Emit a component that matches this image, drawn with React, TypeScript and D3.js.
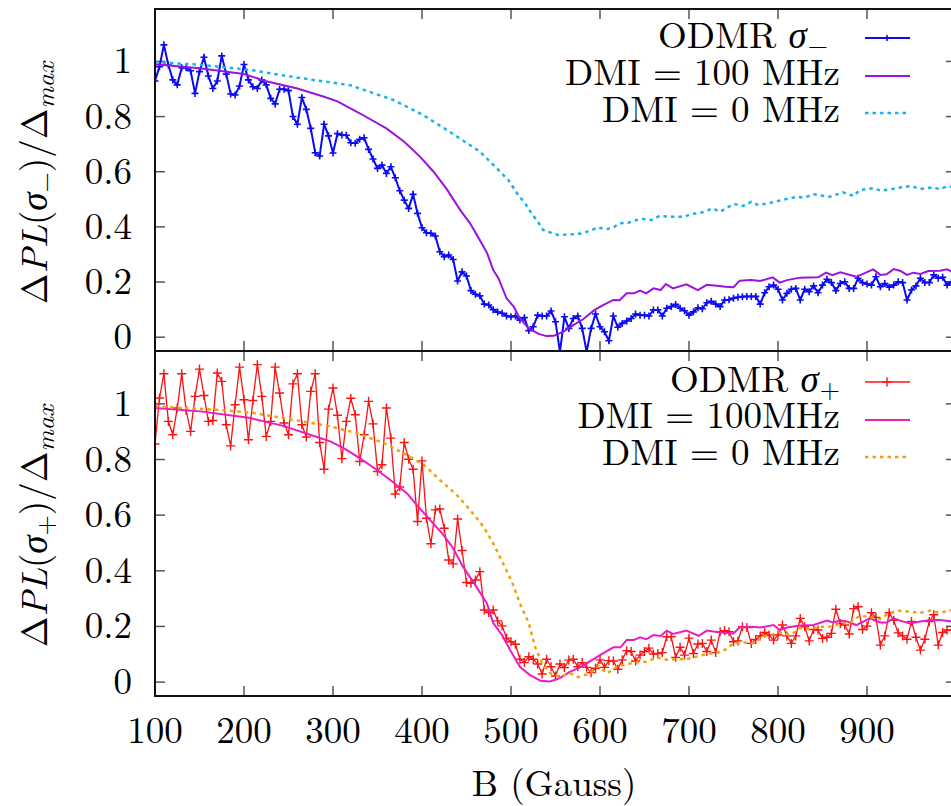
import React from 'react';
import * as d3 from 'd3';

// Magnetic field grid of the measured ODMR points (Gauss)
const fieldB = [
  100,105,110,115,120,125,130,135,140,145,150,155,160,165,170,175,180,185,190,195,
  200,205,210,215,220,225,230,235,240,245,250,255,260,265,270,275,280,285,290,295,
  300,305,310,315,320,325,330,335,340,345,350,355,360,365,370,375,380,385,390,395,
  400,405,410,415,420,425,430,435,440,445,450,455,460,465,470,475,480,485,490,495,
  500,505,510,515,520,525,530,535,540,545,550,555,560,565,570,575,580,585,590,595,
  600,605,610,615,620,625,630,635,640,645,650,655,660,665,670,675,680,685,690,695,
  700,705,710,715,720,725,730,735,740,745,750,755,760,765,770,775,780,785,790,795,
  800,805,810,815,820,825,830,835,840,845,850,855,860,865,870,875,880,885,890,895,
  900,905,910,915,920,925,930,935,940,945,950,955,960,965,970,975,980,985,990,995,
];

// ODMR sigma- (top panel)
const odmrMinus = [
  0.929,0.981,1.06,0.987,0.933,0.915,0.977,0.977,0.966,0.884,
  0.963,1.015,0.947,0.902,0.929,1.02,0.954,0.882,0.878,0.911,
  0.989,0.933,0.908,0.902,0.933,0.915,0.866,0.846,0.899,0.899,
  0.894,0.800,0.772,0.869,0.826,0.757,0.669,0.657,0.772,0.730,
  0.668,0.738,0.733,0.732,0.705,0.703,0.718,0.723,0.681,0.646,
  0.612,0.624,0.594,0.618,0.578,0.531,0.497,0.467,0.518,0.449,
  0.397,0.379,0.377,0.367,0.310,0.292,0.298,0.282,0.204,0.237,
  0.222,0.169,0.156,0.150,0.120,0.117,0.100,0.091,0.087,0.077,
  0.074,0.077,0.062,0.071,0.024,0.038,0.080,0.077,0.077,0.095,
  0.056,-0.053,0.074,0.032,0.068,0.077,0.032,-0.053,0.032,0.084,
  0.038,0.020,-0.013,0.077,0.036,0.050,0.059,0.068,0.084,0.080,
  0.080,0.077,0.099,0.099,0.077,0.105,0.111,0.119,0.105,0.096,
  0.080,0.092,0.107,0.103,0.125,0.130,0.120,0.111,0.135,0.136,
  0.141,0.145,0.147,0.148,0.148,0.148,0.120,0.161,0.183,0.189,
  0.174,0.135,0.159,0.174,0.177,0.135,0.174,0.165,0.186,0.161,
  0.189,0.210,0.198,0.169,0.195,0.201,0.177,0.177,0.214,0.198,
  0.193,0.189,0.219,0.183,0.195,0.181,0.189,0.201,0.198,0.135,
  0.171,0.186,0.214,0.198,0.198,0.226,0.214,0.217,0.189,0.200,
];

// ODMR sigma+ (bottom panel)
const odmrPlus = [
  0.856,1.021,1.108,0.937,0.889,0.985,1.108,0.976,0.901,1.027,
  1.125,1.030,0.937,0.940,1.111,1.081,0.925,0.849,0.997,1.132,
  1.015,0.871,1.012,1.141,1.027,0.883,0.937,1.132,1.039,0.931,
  0.889,1.072,1.108,0.925,0.881,1.045,1.108,0.861,0.765,0.981,
  1.057,0.959,0.803,0.937,1.020,0.961,0.793,0.889,1.009,0.928,
  0.757,0.781,0.985,0.877,0.676,0.701,0.861,0.801,0.765,0.577,
  0.795,0.589,0.497,0.619,0.622,0.553,0.439,0.425,0.586,0.473,
  0.358,0.355,0.367,0.397,0.259,0.250,0.259,0.220,0.202,0.158,
  0.145,0.136,0.082,0.070,0.091,0.082,0.065,0.029,0.082,0.055,
  0.022,0.065,0.052,0.079,0.082,0.055,0.070,0.053,0.034,0.050,
  0.080,0.053,0.077,0.076,0.046,0.080,0.113,0.110,0.076,0.097,
  0.110,0.122,0.101,0.103,0.106,0.163,0.163,0.089,0.125,0.097,
  0.158,0.103,0.137,0.139,0.110,0.151,0.106,0.181,0.185,0.181,
  0.145,0.148,0.199,0.196,0.139,0.153,0.166,0.178,0.169,0.151,
  0.169,0.205,0.166,0.139,0.166,0.229,0.199,0.148,0.189,0.187,
  0.157,0.161,0.175,0.262,0.211,0.205,0.173,0.264,0.271,0.189,
  0.201,0.249,0.232,0.133,0.166,0.249,0.222,0.177,0.166,0.154,
  0.218,0.161,0.115,0.154,0.218,0.242,0.133,0.178,0.187,0.187,
];

// Simulation DMI = 100 MHz, sigma-
const dmi100MinusB = [100,150,200,225,260,290,305,330,360,380,398,413,428,443,454,465,473,480,486,495,503,510,520,531,540,548,559,570,581,594,604,615,622,630,638,645,652,660,668,674,682,697,710,720,734,741,750,757,770,780,794,802,810,825,845,854,861,870,888,907,915,922,930,937,945,952,960,969,982,990,995];
const dmi100MinusV = [0.99,0.975,0.954,0.928,0.902,0.872,0.855,0.812,0.757,0.709,0.654,0.600,0.536,0.461,0.413,0.352,0.306,0.244,0.213,0.141,0.111,0.068,0.032,0.012,0.004,0.005,0.020,0.044,0.065,0.099,0.117,0.135,0.134,0.159,0.159,0.169,0.159,0.177,0.171,0.193,0.177,0.192,0.171,0.190,0.186,0.183,0.181,0.205,0.207,0.204,0.217,0.198,0.207,0.216,0.217,0.234,0.225,0.235,0.219,0.246,0.226,0.228,0.247,0.241,0.226,0.234,0.229,0.240,0.241,0.246,0.238];

// Simulation DMI = 0 MHz, sigma-
const dmi0MinusB = [100,150,207,260,319,368,401,431,465,486,497,508,516,523,531,536,544,553,562,572,581,598,607,615,622,632,641,648,658,667,677,686,695,703,712,727,735,750,761,770,778,791,804,821,829,840,858,873,885,892,907,916,928,937,950,960,973,982,991,995];
const dmi0MinusV = [0.997,0.988,0.969,0.941,0.914,0.860,0.806,0.745,0.673,0.606,0.570,0.516,0.485,0.449,0.415,0.389,0.380,0.371,0.372,0.374,0.377,0.398,0.391,0.398,0.413,0.415,0.425,0.429,0.425,0.440,0.437,0.437,0.437,0.447,0.450,0.467,0.455,0.483,0.476,0.491,0.479,0.487,0.497,0.509,0.506,0.518,0.509,0.525,0.512,0.534,0.540,0.531,0.537,0.543,0.548,0.537,0.543,0.537,0.548,0.545];

// Simulation DMI = 100 MHz, sigma+
const dmi100PlusB = [100,151,207,244,282,297,312,330,349,364,383,394,409,424,435,446,461,473,480,490,499,510,521,533,544,555,566,578,600,615,623,630,638,645,652,660,668,675,682,697,711,720,735,750,757,772,780,795,802,810,825,840,855,862,870,877,888,903,915,922,930,937,948,960,971,982,995];
const dmi100PlusV = [0.985,0.973,0.949,0.921,0.881,0.865,0.841,0.805,0.763,0.727,0.679,0.637,0.583,0.529,0.481,0.415,0.343,0.283,0.212,0.169,0.115,0.055,0.026,0.005,0.002,0.014,0.037,0.054,0.097,0.125,0.125,0.151,0.151,0.161,0.154,0.169,0.166,0.185,0.173,0.185,0.166,0.185,0.178,0.175,0.197,0.199,0.196,0.205,0.187,0.196,0.203,0.205,0.221,0.214,0.221,0.218,0.205,0.229,0.214,0.214,0.229,0.221,0.211,0.218,0.223,0.223,0.218];

// Simulation DMI = 0 MHz, sigma+
const dmi0PlusB = [100,132,169,207,244,282,297,319,327,357,379,402,420,439,454,469,480,491,501,510,520,527,535,544,555,566,576,589,598,608,619,630,641,652,664,675,686,697,709,720,731,742,750,761,772,782,791,802,814,825,836,847,858,870,881,892,903,915,924,935,948,960,971,982,995];
const dmi0PlusV = [0.991,0.985,0.979,0.969,0.949,0.928,0.919,0.901,0.895,0.859,0.823,0.781,0.727,0.673,0.619,0.559,0.499,0.427,0.361,0.283,0.212,0.127,0.068,0.032,0.019,0.032,0.018,0.032,0.058,0.032,0.055,0.065,0.070,0.073,0.089,0.080,0.082,0.082,0.092,0.101,0.106,0.118,0.140,0.142,0.140,0.161,0.169,0.178,0.169,0.194,0.190,0.199,0.199,0.209,0.214,0.238,0.235,0.226,0.247,0.257,0.253,0.249,0.257,0.249,0.259];

const xTicks = [100, 200, 300, 400, 500, 600, 700, 800, 900, 1000];
const xTickLabels = ['100', '200', '300', '400', '500', '600', '700', '800', '900', ''];
const yTicks = [0, 0.2, 0.4, 0.6, 0.8, 1];
const yTickLabels = ['0', '0.2', '0.4', '0.6', '0.8', '1'];

const FONT = '"Latin Modern Roman"';
const C_BLUE = '#0a0af5';
const C_PURPLE = '#9c12de';
const C_CYAN = '#1ab2ea';
const C_RED = '#ff1010';
const C_MAGENTA = '#ea1cc2';
const C_ORANGE = '#f0a30c';

const txt = (size: number): React.CSSProperties => ({ fontFamily: FONT, fontSize: size + 'px' });
const ital = (size?: number): React.CSSProperties =>
  size ? { fontStyle: 'italic', fontSize: size + 'px' } : { fontStyle: 'italic' };

export default function App() {
  const W = 951, H = 806;
  const x = d3.scaleLinear().domain([100, 1000]).range([155, 956]);
  const yT = d3.scaleLinear().domain([-0.05, 1.19]).range([351, 9]);
  const yB = d3.scaleLinear().domain([-0.05, 1.19]).range([696, 351]);

  const lineOf = (ys: d3.ScaleLinear<number, number>) =>
    d3.line<[number, number]>().x(d => x(d[0])).y(d => ys(d[1]));

  const zip = (a: number[], b: number[]) => a.map((v, i) => [v, b[i]] as [number, number]);

  const plusPath = (pts: [number, number][], ys: d3.ScaleLinear<number, number>, r: number) =>
    pts.map(p => {
      const px = x(p[0]), py = ys(p[1]);
      return `M${px - r},${py}h${2 * r}M${px},${py - r}v${2 * r}`;
    }).join('');

  const minusPts = zip(fieldB, odmrMinus);
  const plusPts = zip(fieldB, odmrPlus);

  const left = 155, right = 956;
  const tickLen = 10;
  const tickColor = '#555';

  const panel = (ys: d3.ScaleLinear<number, number>, top: number, bottom: number, showX: boolean) => (
    <g>
      {yTicks.map(t => (
        <g key={'y' + t}>
          <line x1={left} x2={left + tickLen} y1={ys(t)} y2={ys(t)} stroke={tickColor} strokeWidth={1.5} />
          <line x1={right - tickLen} x2={right} y1={ys(t)} y2={ys(t)} stroke={tickColor} strokeWidth={1.5} />
        </g>
      ))}
      {xTicks.map(t => (
        <g key={'x' + t}>
          <line x1={x(t)} x2={x(t)} y1={top} y2={top + tickLen} stroke={tickColor} strokeWidth={1.5} />
          <line x1={x(t)} x2={x(t)} y1={bottom - tickLen} y2={bottom} stroke={tickColor} strokeWidth={1.5} />
        </g>
      ))}
      {yTicks.map((t, i) => (
        <text key={'yl' + t} x={132} y={ys(t) + 12} textAnchor="end" style={txt(37)} fill="#000">
          {yTickLabels[i]}
        </text>
      ))}
      {showX && xTicks.map((t, i) => (
        <text key={'xl' + t} x={x(t)} y={743} textAnchor="middle" style={txt(37)} fill="#000">
          {xTickLabels[i]}
        </text>
      ))}
    </g>
  );

  return (
    <svg width={W} height={H} style={{ position: 'fixed', left: 0, top: 0, background: '#fff' }}
      xmlns="http://www.w3.org/2000/svg">
      <defs>
        <clipPath id="clipTop"><rect x={left} y={9} width={right - left} height={342} /></clipPath>
        <clipPath id="clipBot"><rect x={left} y={351} width={right - left} height={345} /></clipPath>
      </defs>
      <rect x={0} y={0} width={W} height={H} fill="#fff" />

      {panel(yT, 9, 351, false)}
      {panel(yB, 351, 696, true)}

      {/* top panel data */}
      <g clipPath="url(#clipTop)">
        <path d={lineOf(yT)(minusPts) || ''} fill="none" stroke={C_BLUE} strokeWidth={2} />
        <path d={plusPath(minusPts, yT, 3.5)} fill="none" stroke={C_BLUE} strokeWidth={1.6} />
        <path d={lineOf(yT)(zip(dmi100MinusB, dmi100MinusV)) || ''} fill="none" stroke={C_PURPLE} strokeWidth={2} />
        <path d={lineOf(yT)(zip(dmi0MinusB, dmi0MinusV)) || ''} fill="none" stroke={C_CYAN} strokeWidth={2.5} strokeDasharray="3.5 4" />
      </g>

      {/* bottom panel data */}
      <g clipPath="url(#clipBot)">
        <path d={lineOf(yB)(plusPts) || ''} fill="none" stroke={C_RED} strokeWidth={1.3} />
        <path d={plusPath(plusPts, yB, 4.5)} fill="none" stroke={C_RED} strokeWidth={1.4} />
        <path d={lineOf(yB)(zip(dmi100PlusB, dmi100PlusV)) || ''} fill="none" stroke={C_MAGENTA} strokeWidth={2} />
        <path d={lineOf(yB)(zip(dmi0PlusB, dmi0PlusV)) || ''} fill="none" stroke={C_ORANGE} strokeWidth={2.5} strokeDasharray="3.5 4" />
      </g>

      {/* frames */}
      <rect x={left} y={9} width={right - left} height={342} fill="none" stroke="#111" strokeWidth={2} />
      <rect x={left} y={351} width={right - left} height={345} fill="none" stroke="#111" strokeWidth={2} />

      {/* legends */}
      <g fill="#000">
        <text x={828} y={48} textAnchor="end" style={txt(37)}>ODMR <tspan style={ital()}>σ</tspan><tspan style={{ fontSize: '26px' }} dx={1} dy={6}>−</tspan></text>
        <text x={840} y={85} textAnchor="end" style={txt(37)}>DMI = 100 MHz</text>
        <text x={840} y={122} textAnchor="end" style={txt(37)}>DMI = 0 MHz</text>
        <text x={840} y={392} textAnchor="end" style={txt(37)}>ODMR <tspan style={ital()}>σ</tspan><tspan style={{ fontSize: '26px' }} dx={1} dy={6}>+</tspan></text>
        <text x={840} y={428} textAnchor="end" style={txt(37)}>DMI = 100MHz</text>
        <text x={840} y={465} textAnchor="end" style={txt(37)}>DMI = 0 MHz</text>
      </g>
      <line x1={865} x2={910} y1={38} y2={38} stroke={C_BLUE} strokeWidth={2} />
      <path d="M884,38h6M887,35v6" stroke={C_BLUE} strokeWidth={1.6} />
      <line x1={865} x2={910} y1={76} y2={76} stroke={C_PURPLE} strokeWidth={2} />
      <line x1={865} x2={910} y1={113} y2={113} stroke={C_CYAN} strokeWidth={2.5} strokeDasharray="3.5 4" />

      <line x1={865} x2={910} y1={382} y2={382} stroke={C_RED} strokeWidth={1.3} />
      <path d="M882.5,382h9M887,377.5v9" stroke={C_RED} strokeWidth={1.4} />
      <line x1={865} x2={910} y1={420} y2={420} stroke={C_MAGENTA} strokeWidth={2} />
      <line x1={865} x2={910} y1={457} y2={457} stroke={C_ORANGE} strokeWidth={2.5} strokeDasharray="3.5 4" />

      {/* y axis labels */}
      <text transform="translate(47,183) rotate(-90)" textAnchor="middle" style={txt(37)} fill="#000">
        Δ<tspan style={ital()}>PL</tspan>(<tspan style={ital()}>σ</tspan><tspan style={{ fontSize: '26px' }} dy={7}>−</tspan><tspan dy={-7}>)/Δ</tspan><tspan style={ital(26)} dy={7}>max</tspan>
      </text>
      <text transform="translate(47,526) rotate(-90)" textAnchor="middle" style={txt(37)} fill="#000">
        Δ<tspan style={ital()}>PL</tspan>(<tspan style={ital()}>σ</tspan><tspan style={{ fontSize: '26px' }} dy={7}>+</tspan><tspan dy={-7}>)/Δ</tspan><tspan style={ital(26)} dy={7}>max</tspan>
      </text>

      {/* x axis label */}
      <text x={554} y={796} textAnchor="middle" style={txt(37)} fill="#000">B (Gauss)</text>
    </svg>
  );
}
